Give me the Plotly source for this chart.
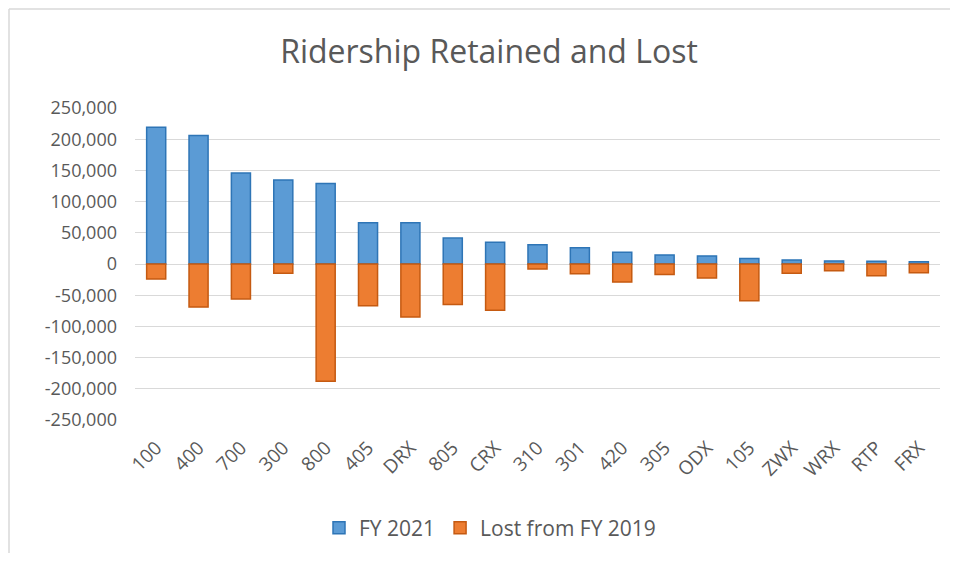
import plotly.graph_objects as go

routes = ["100", "400", "700", "300", "800", "405", "DRX", "805", "CRX", "310",
          "301", "420", "305", "ODX", "105", "ZWX", "WRX", "RTP", "FRX"]
fy2021 = [219000, 206000, 146000, 134500, 129000, 66000, 66000, 41500, 35000, 31000,
          26000, 19000, 14500, 13000, 9000, 6500, 5000, 4500, 3500]
lost_fy2019 = [-24000, -69000, -56000, -15000, -188000, -67000, -85000, -65000, -74000, -8000,
               -15500, -29000, -17000, -22500, -59000, -15000, -11000, -19000, -14000]
y_ticks = [250000, 200000, 150000, 100000, 50000, 0, -50000, -100000, -150000, -200000, -250000]
y_tick_labels = ["250,000", "200,000", "150,000", "100,000", "50,000", "0", "-50,000",
                 "-100,000", "-150,000", "-200,000", "-250,000"]

FONT = "Open Sans"
GREY = "#595959"

W, H = 942, 545          # page has an 8px body margin
L, R, T, B = 127, 10, 100, 133
PW, PH = W - L - R, H - T - B

fig = go.Figure()
fig.add_trace(go.Bar(x=routes, y=fy2021, name="FY 2021",
                     marker=dict(color="#5B9BD5", line=dict(color="#2E75B6", width=1.5))))
fig.add_trace(go.Bar(x=routes, y=lost_fy2019, name="Lost from FY 2019",
                     marker=dict(color="#ED7D31", line=dict(color="#C55A11", width=1.5))))

x_left = -L / PW + 1 / PW
x_right = 1 + R / PW
y_top = (H - B - 1) / PH
y_bottom = -B / PH

fig.update_layout(
    width=W, height=H,
    barmode="relative", bargap=0.55,
    paper_bgcolor="white", plot_bgcolor="white",
    margin=dict(l=L, r=R, t=T, b=B, autoexpand=False),
    title=dict(text="Ridership Retained and Lost", x=(489 - 8) / W, xanchor="center",
               y=1 - 44 / H, yref="container", yanchor="middle",
               font=dict(family=FONT, size=32, color=GREY)),
    font=dict(family=FONT, size=18, color=GREY),
    xaxis=dict(tickangle=-45, showgrid=False, showline=False, ticks="",
               ticklabelstandoff=12,
               tickfont=dict(size=19, color=GREY), automargin=False),
    yaxis=dict(range=[-250000, 250000], tickvals=y_ticks, ticktext=y_tick_labels,
               showgrid=True, gridcolor="#D9D9D9", gridwidth=1,
               zeroline=True, zerolinecolor="#D9D9D9", zerolinewidth=1,
               showline=False, ticks="", ticklabelstandoff=17,
               tickfont=dict(size=18, color=GREY), automargin=False),
    legend=dict(orientation="h", x=(490 - 8 - L) / PW, xanchor="center",
                y=(H - B - 520) / PH, yanchor="middle",
                font=dict(size=21, color=GREY), traceorder="normal"),
    shapes=[
        dict(type="line", xref="paper", yref="paper",
             x0=x_left, x1=x_right, y0=y_top, y1=y_top,
             line=dict(color="#D9D9D9", width=1.5), layer="below"),
        dict(type="line", xref="paper", yref="paper",
             x0=x_left, x1=x_left, y0=y_top, y1=y_bottom,
             line=dict(color="#D9D9D9", width=1.5), layer="below"),
    ],
)

fig.write_html("out.html")
